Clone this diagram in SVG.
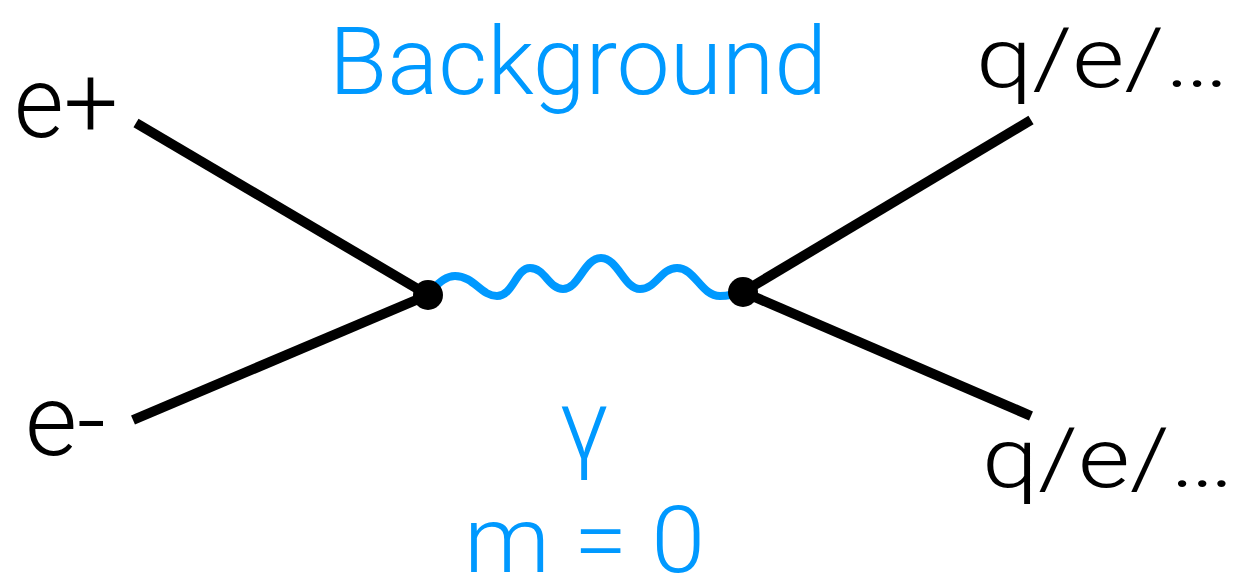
<svg xmlns="http://www.w3.org/2000/svg" width="1245" height="581" viewBox="0 0 1245 581">
<style>
.line{stroke:#000;stroke-width:10;fill:none;stroke-linecap:butt}
.photon{stroke:#0099FF;stroke-width:8;fill:none;stroke-linecap:round}
.dot{fill:#000}
.lbl{font-family:Roboto,"Liberation Sans",sans-serif;font-weight:300;fill:#000}
.blue{fill:#0099FF}
</style>
<rect width="1245" height="581" fill="#fff"/>
<g id="connectors">
<line class="line" x1="136" y1="123" x2="428" y2="295"/>
<line class="line" x1="133" y1="420" x2="428" y2="295"/>
<line class="line" x1="743" y1="292" x2="1031" y2="120"/>
<line class="line" x1="743" y1="292" x2="1031" y2="416"/>
<path id="photon" class="photon" d="M428,293 C440,282 446,276 455,276 C474,276 481,296 497,296 C513,296 516,268 530,268 C545,268 549,289 563,289 C579,289 584,258 601,258 C618,258 624,289 640,289 C656,289 661,268 677,268 C695,268 701,296 720,296 C730,296 736,294 743,291"/>
</g>
<g id="vertex-left"><circle class="dot" cx="428" cy="295" r="15"/></g>
<g id="vertex-right"><circle class="dot" cx="743" cy="292" r="15"/></g>
<g id="label-eplus"><text class="lbl" x="14" y="137" font-size="100" textLength="104" lengthAdjust="spacingAndGlyphs">e+</text></g>
<g id="label-eminus"><text class="lbl" x="25" y="455" font-size="100" textLength="81" lengthAdjust="spacingAndGlyphs">e-</text></g>
<g id="label-out-top"><text class="lbl" x="976" y="87" font-size="84" textLength="253" lengthAdjust="spacingAndGlyphs">q/e/…</text></g>
<g id="label-out-bottom"><text class="lbl" x="982" y="487" font-size="84" textLength="252" lengthAdjust="spacingAndGlyphs">q/e/…</text></g>
<g id="label-background"><text class="lbl blue" x="329" y="94" font-size="95" textLength="498" lengthAdjust="spacingAndGlyphs">Background</text></g>
<g id="label-gamma"><text class="lbl blue" x="584" y="460" font-size="100" text-anchor="middle">γ</text></g>
<g id="label-mass"><text class="lbl blue" x="464" y="572" font-size="93" textLength="241" lengthAdjust="spacingAndGlyphs">m = 0</text></g>
</svg>
